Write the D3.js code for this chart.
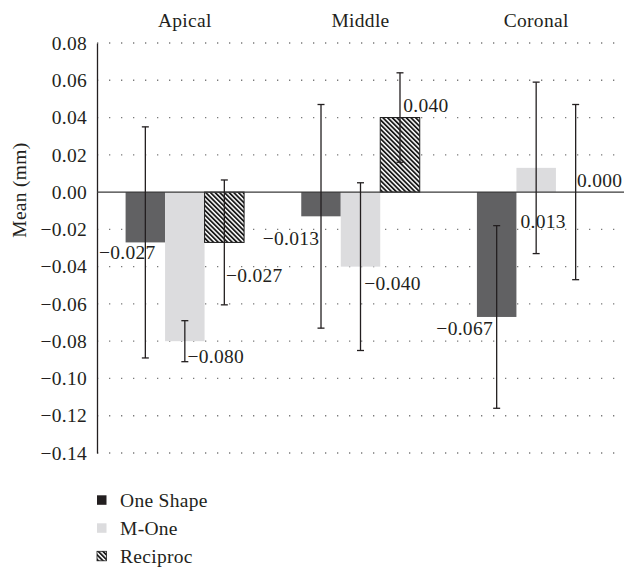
<!DOCTYPE html>
<html>
<head>
<meta charset="utf-8">
<script src="https://cdn.jsdelivr.net/npm/d3@7"></script>
<style>
  body { margin: 0; background: #fff; }
</style>
</head>
<body>
<div id="chart-area"></div>
<script>
// data
var categories = ["Apical", "Middle", "Coronal"];
var seriesNames = ["One Shape", "M-One", "Reciproc"];
var oneShape = [-0.027, -0.013, -0.067];
var mOne = [-0.080, -0.040, 0.013];
var reciproc = [-0.027, 0.040, 0.000];
var oneShapeSd = [0.062, 0.060, 0.049];
var mOneSd = [0.011, 0.045, 0.046];
var reciprocSd = [0.0335, 0.024, 0.047];
var yTicks = [0.08, 0.06, 0.04, 0.02, 0.00, -0.02, -0.04, -0.06, -0.08, -0.10, -0.12, -0.14];

// label offsets from the bar end (placed by hand in the original)
var labelDx = [[-18, -30, -32], [31, 32, 7], [30, 26, 24]];
var labelDy = [[10, 22, 12], [15, 17, 54], [33, -12, -12]];

var W = 624, H = 567;
var margin = {left: 97, right: 0, top: 43, bottom: 114};
var width = W - margin.left - margin.right;
var height = H - margin.top - margin.bottom;
var fontSize = "19.5px";
var fontFamily = "'Liberation Serif', 'Times New Roman', serif";
var ink = "#231f20";

var svg = d3.select("#chart-area").append("svg").attr("width", W).attr("height", H);

var defs = svg.append("defs");
var pat = defs.append("pattern")
	.attr("id", "hatch")
	.attr("patternUnits", "userSpaceOnUse")
	.attr("width", 3.3).attr("height", 3.3)
	.attr("patternTransform", "rotate(-45)");
pat.append("rect").attr("width", 3.3).attr("height", 3.3).attr("fill", "#fff");
pat.append("rect").attr("width", 1.8).attr("height", 3.3).attr("fill", "#1a1a1a");

var fills = ["#616163", "#dcdcde", "url(#hatch)"];
var values = [oneShape, mOne, reciproc];
var sds = [oneShapeSd, mOneSd, reciprocSd];

var data = [];
seriesNames.forEach(function(s, si) {
	categories.forEach(function(c, ci) {
		data.push({series: s, si: si, cat: c, ci: ci, value: values[si][ci], sd: sds[si][ci]});
	});
});

var g = svg.append("g").attr("transform", "translate(" + margin.left + ", " + margin.top + ")");

var x0 = d3.scaleBand().domain(categories).range([0, width]).padding(0);
var x1 = d3.scaleBand().domain(seriesNames).range([0, x0.bandwidth()]).paddingInner(0).paddingOuter(0.724);
var y = d3.scaleLinear().domain([-0.14, 0.08]).range([height, 0]);

var fmt = function(v) { return d3.format(".2f")(v).replace("-", "\u2212"); };
var fmt3 = function(v) { return d3.format(".3f")(v).replace("-", "\u2212"); };

// dotted gridlines
g.selectAll(".grid").data(yTicks.filter(function(t) { return t !== 0; }))
	.enter().append("line")
	.attr("x1", 0).attr("x2", width)
	.attr("y1", function(d) { return y(d); }).attr("y2", function(d) { return y(d); })
	.attr("stroke", "#7a7a7a").attr("stroke-width", 1.3)
	.attr("stroke-dasharray", "1.3,10.7");

// left axis
var leftAxis = d3.axisLeft(y).tickValues(yTicks).tickSize(0).tickPadding(10).tickFormat(fmt);
var leftAxisGroup = g.append("g").attr("class", "left axis").call(leftAxis);
leftAxisGroup.select(".domain").attr("stroke", ink).attr("stroke-width", 1.3);

// bars
g.selectAll(".bar").data(data).enter().append("rect")
	.attr("class", "bar")
	.attr("x", function(d) { return x0(d.cat) + x1(d.series); })
	.attr("width", x1.bandwidth())
	.attr("y", function(d) { return y(Math.max(0, d.value)); })
	.attr("height", function(d) { return Math.abs(y(d.value) - y(0)); })
	.attr("fill", function(d) { return fills[d.si]; })
	.attr("stroke", function(d) { return d.si === 2 && d.value !== 0 ? "#1a1a1a" : "none"; })
	.attr("stroke-width", 1);

// zero line
g.append("line")
	.attr("x1", 0).attr("x2", width)
	.attr("y1", y(0)).attr("y2", y(0))
	.attr("stroke", "#3a3a3a").attr("stroke-width", 1.3);

// error bars
var cx = function(d) { return x0(d.cat) + x1(d.series) + x1.bandwidth() / 2; };
var err = g.selectAll(".err").data(data).enter().append("g").attr("class", "err")
	.attr("stroke", ink).attr("stroke-width", 1.3);
err.append("line")
	.attr("x1", cx).attr("x2", cx)
	.attr("y1", function(d) { return y(d.value + d.sd); })
	.attr("y2", function(d) { return y(d.value - d.sd); });
err.append("line")
	.attr("x1", function(d) { return cx(d) - 3.5; }).attr("x2", function(d) { return cx(d) + 3.5; })
	.attr("y1", function(d) { return y(d.value + d.sd); })
	.attr("y2", function(d) { return y(d.value + d.sd); });
err.append("line")
	.attr("x1", function(d) { return cx(d) - 3.5; }).attr("x2", function(d) { return cx(d) + 3.5; })
	.attr("y1", function(d) { return y(d.value - d.sd); })
	.attr("y2", function(d) { return y(d.value - d.sd); });

// value labels
g.selectAll(".vlabel").data(data).enter().append("text")
	.attr("class", "vlabel")
	.attr("x", function(d) { return cx(d) + labelDx[d.si][d.ci]; })
	.attr("y", function(d) { return y(d.value) + labelDy[d.si][d.ci]; })
	.attr("text-anchor", "middle")
	.attr("dominant-baseline", "central")
	.text(function(d) { return fmt3(d.value); });

// category titles on top
g.selectAll(".cat").data(categories).enter().append("text")
	.attr("x", function(d) { return x0(d) + x0.bandwidth() / 2; })
	.attr("y", -16)
	.attr("text-anchor", "middle")
	.text(function(d) { return d; });

// y title
svg.append("text")
	.attr("transform", "translate(26, " + (margin.top + y(0.0) - 2) + ") rotate(-90)")
	.attr("text-anchor", "middle")
	.text("Mean (mm)");

// legend
var legend = svg.append("g").attr("transform", "translate(97, 500)");
var li = legend.selectAll(".li").data(seriesNames).enter().append("g")
	.attr("transform", function(d, i) { return "translate(0, " + (i * 28) + ")"; });
li.append("rect")
	.attr("x", 0).attr("y", -4.7).attr("width", 9.5).attr("height", 9.5)
	.attr("fill", function(d, i) { return i === 0 ? ink : fills[i]; })
	.attr("stroke", function(d, i) { return i === 2 ? "#1a1a1a" : "none"; })
	.attr("stroke-width", 0.8);
li.append("text")
	.attr("x", 23).attr("y", 0)
	.attr("dominant-baseline", "central")
	.text(function(d) { return d; });

// one font for every text
svg.selectAll("text")
	.style("font-family", fontFamily)
	.style("font-size", fontSize)
	.style("letter-spacing", "0.3px")
	.attr("fill", ink);
</script>
</body>
</html>
